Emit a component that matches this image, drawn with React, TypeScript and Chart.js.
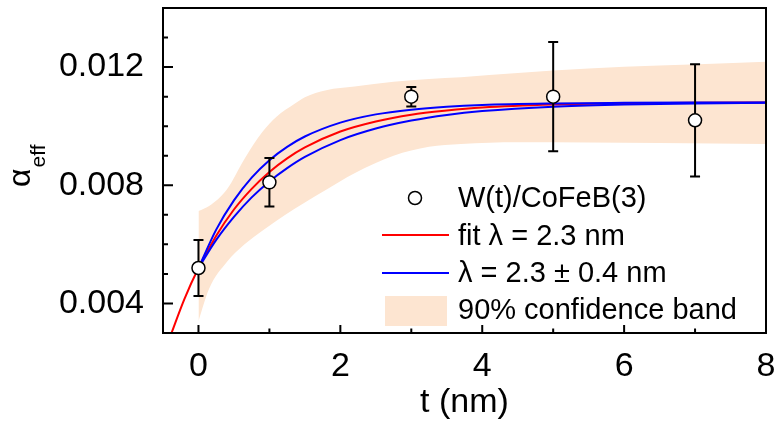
import React, { useEffect, useRef } from "react";
import { Chart, registerables } from "chart.js";

Chart.register(...registerables);

// ---- data ----
const pointT = [0, 1, 3, 5, 7];
const pointAlpha = [0.0052, 0.0081, 0.011, 0.011, 0.0102];
const pointErr = [0.00095, 0.00082, 0.00033, 0.00185, 0.0019];

const fitT = [-0.4, -0.2, 0, 0.25, 0.5, 0.75, 1, 1.25, 1.5, 2, 2.5, 3, 3.5, 4, 5, 6, 7, 8];
const fitRed = [0.00287, 0.00414, 0.0052, 0.00629, 0.00718, 0.00788, 0.00845, 0.00891, 0.00928, 0.00982, 0.01016, 0.01039, 0.01053, 0.01063, 0.01073, 0.01077, 0.01079, 0.0108];

const blueT = [0, 0.25, 0.5, 0.75, 1, 1.25, 1.5, 2, 2.5, 3, 3.5, 4, 5, 6, 7, 8];
const blueUpper = [0.0052, 0.0065, 0.00749, 0.00826, 0.00885, 0.0093, 0.00965, 0.01012, 0.0104, 0.01056, 0.01066, 0.01072, 0.01077, 0.01079, 0.0108, 0.0108];
const blueLower = [0.0052, 0.00615, 0.00693, 0.00759, 0.00813, 0.00858, 0.00896, 0.00953, 0.00992, 0.01019, 0.01038, 0.01051, 0.01066, 0.01073, 0.01077, 0.01079];

const bandT = [0, 0.15, 0.4, 0.65, 0.9, 1.1, 1.35, 1.5, 1.8, 2.2, 2.75, 3.25, 3.7, 4.5, 5.5, 6.5, 8];
const bandUpper = [0.00713, 0.0073, 0.00786, 0.0089, 0.0098, 0.01032, 0.01075, 0.01098, 0.01122, 0.01134, 0.0115, 0.0116, 0.01166, 0.0118, 0.01195, 0.01205, 0.01218];
const bandLower = [0.0034, 0.0045, 0.0054, 0.006, 0.00646, 0.0068, 0.0072, 0.00742, 0.00785, 0.00841, 0.009, 0.0093, 0.0094, 0.00946, 0.00945, 0.00943, 0.0094];

const xMajorTicks = [0, 2, 4, 6, 8];
const xMinorTicks = [1, 3, 5, 7];
const yMajorTicks = [0.004, 0.008, 0.012];
const yMinorTicks = [0.005, 0.006, 0.007, 0.009, 0.01, 0.011, 0.013];

const legendLabels = ["W(t)/CoFeB(3)", "fit \u03bb = 2.3 nm", "\u03bb = 2.3 \u00b1 0.4 nm", "90% confidence band"];
const xTitle = "t (nm)";
const yTitleMain = "\u03b1";
const yTitleSub = "eff";

const RED = "#ff0000";
const BLUE = "#0000ff";
const BAND = "#fde5d1";
const FONT = "'Liberation Sans', Arial, sans-serif";

const toXY = (xs: number[], ys: number[]) => xs.map((x, i) => ({ x, y: ys[i] }));

const errorBarPlugin = {
  id: "errorBars",
  beforeDatasetDraw(chart: any, args: any) {
    if (args.index !== 0) return;
    const { ctx } = chart;
    const x = chart.scales.x;
    const y = chart.scales.y;
    ctx.save();
    ctx.strokeStyle = "#000";
    ctx.lineWidth = 2;
    pointT.forEach((t, i) => {
      const px = x.getPixelForValue(t);
      const top = y.getPixelForValue(pointAlpha[i] + pointErr[i]);
      const bot = y.getPixelForValue(pointAlpha[i] - pointErr[i]);
      ctx.beginPath();
      ctx.moveTo(px, top);
      ctx.lineTo(px, bot);
      ctx.moveTo(px - 5, top);
      ctx.lineTo(px + 5, top);
      ctx.moveTo(px - 5, bot);
      ctx.lineTo(px + 5, bot);
      ctx.stroke();
    });
    ctx.restore();
  },
};

const framePlugin = {
  id: "frame",
  afterDatasetsDraw(chart: any) {
    const { ctx, chartArea: a } = chart;
    const x = chart.scales.x;
    const y = chart.scales.y;
    ctx.save();
    ctx.strokeStyle = "#000";
    ctx.lineWidth = 2;
    ctx.strokeRect(a.left, a.top, a.right - a.left, a.bottom - a.top);
    ctx.beginPath();
    yMajorTicks.forEach((v) => {
      const py = y.getPixelForValue(v);
      ctx.moveTo(a.left, py);
      ctx.lineTo(a.left + 10, py);
    });
    yMinorTicks.forEach((v) => {
      const py = y.getPixelForValue(v);
      ctx.moveTo(a.left, py);
      ctx.lineTo(a.left + 5, py);
    });
    xMajorTicks.forEach((v) => {
      const px = x.getPixelForValue(v);
      ctx.moveTo(px, a.bottom);
      ctx.lineTo(px, a.bottom - 8);
    });
    xMinorTicks.forEach((v) => {
      const px = x.getPixelForValue(v);
      ctx.moveTo(px, a.bottom);
      ctx.lineTo(px, a.bottom - 4.5);
    });
    ctx.stroke();
    ctx.restore();
  },
  afterDraw(chart: any) {
    const { ctx } = chart;
    ctx.save();
    ctx.fillStyle = "#000";
    // y title (alpha_eff), rotated
    ctx.translate(30, 187);
    ctx.rotate(-Math.PI / 2);
    ctx.textBaseline = "alphabetic";
    ctx.textAlign = "left";
    ctx.font = `32px ${FONT}`;
    ctx.fillText(yTitleMain, 0, 0);
    const w = ctx.measureText(yTitleMain).width;
    ctx.font = `21px ${FONT}`;
    ctx.fillText(yTitleSub, w + 1, 15);
    ctx.restore();

    // legend
    ctx.save();
    const tx = 458;
    const baselines = [207, 245, 282, 319];
    ctx.font = `29px ${FONT}`;
    ctx.fillStyle = "#000";
    ctx.textAlign = "left";
    ctx.textBaseline = "alphabetic";
    legendLabels.forEach((s, i) => ctx.fillText(s, tx, baselines[i]));
    // marker
    ctx.beginPath();
    ctx.arc(415, 198, 6.5, 0, Math.PI * 2);
    ctx.fillStyle = "#fff";
    ctx.fill();
    ctx.lineWidth = 1.5;
    ctx.strokeStyle = "#000";
    ctx.stroke();
    // lines
    ctx.lineWidth = 2;
    ctx.strokeStyle = RED;
    ctx.beginPath();
    ctx.moveTo(382, 235);
    ctx.lineTo(449, 235);
    ctx.stroke();
    ctx.strokeStyle = BLUE;
    ctx.beginPath();
    ctx.moveTo(382, 273);
    ctx.lineTo(449, 273);
    ctx.stroke();
    ctx.fillStyle = BAND;
    ctx.fillRect(385, 296, 62, 30);
    ctx.restore();
  },
};

export default function App() {
  const ref = useRef<HTMLCanvasElement>(null);
  useEffect(() => {
    Chart.defaults.font.family = FONT;
    Chart.defaults.color = "#000";
    const lineCommon = {
      pointRadius: 0,
      borderWidth: 2,
      fill: false,
      cubicInterpolationMode: "monotone" as const,
    };
    const chart = new Chart(ref.current as HTMLCanvasElement, {
      type: "line",
      data: {
        datasets: [
          {
            type: "scatter",
            label: "points",
            data: toXY(pointT, pointAlpha),
            pointRadius: 6.5,
            pointHoverRadius: 6.5,
            pointBackgroundColor: "#fff",
            pointBorderColor: "#000",
            pointBorderWidth: 1.5,
            showLine: false,
            order: 0,
          } as any,
          { label: "blueU", data: toXY(blueT, blueUpper), borderColor: BLUE, ...lineCommon, order: 1 },
          { label: "blueL", data: toXY(blueT, blueLower), borderColor: BLUE, ...lineCommon, order: 1 },
          { label: "red", data: toXY(fitT, fitRed), borderColor: RED, ...lineCommon, order: 2 },
          {
            label: "bandU",
            data: toXY(bandT, bandUpper),
            borderColor: "rgba(0,0,0,0)",
            borderWidth: 0,
            backgroundColor: BAND,
            pointRadius: 0,
            fill: "+1",
            cubicInterpolationMode: "monotone",
            order: 10,
          },
          {
            label: "bandL",
            data: toXY(bandT, bandLower),
            borderColor: "rgba(0,0,0,0)",
            borderWidth: 0,
            pointRadius: 0,
            fill: false,
            cubicInterpolationMode: "monotone",
            order: 10,
          },
        ],
      },
      options: {
        responsive: false,
        animation: false,
        devicePixelRatio: 1,
        layout: { padding: { left: 0, top: 8, right: 10, bottom: 0 } },
        plugins: { legend: { display: false }, tooltip: { enabled: false } },
        scales: {
          x: {
            type: "linear",
            min: -0.5,
            max: 8,
            grid: { display: false },
            border: { display: false },
            ticks: {
              padding: 5,
              font: { size: 34 },
              color: "#000",
              callback: (v: any) => String(v),
            },
            title: {
              display: true,
              text: xTitle,
              font: { size: 34, lineHeight: 1.1 },
              color: "#000",
              padding: { top: 0, bottom: 0 },
            },
            afterBuildTicks: (s: any) => {
              s.ticks = xMajorTicks.map((v) => ({ value: v }));
            },
            afterFit: (s: any) => {
              s.height = 88;
              s.paddingLeft = 0;
              s.paddingRight = 0;
            },
          },
          y: {
            type: "linear",
            min: 0.003,
            max: 0.014,
            grid: { display: false },
            border: { display: false },
            ticks: {
              padding: 11,
              font: { size: 34 },
              color: "#000",
              callback: (v: any) => Number(v).toFixed(3),
            },
            afterBuildTicks: (s: any) => {
              s.ticks = yMajorTicks.map((v) => ({ value: v }));
            },
            afterFit: (s: any) => {
              s.width = 163;
              s.paddingTop = 0;
              s.paddingBottom = 0;
            },
          },
        },
      },
      plugins: [errorBarPlugin, framePlugin],
    } as any);
    return () => chart.destroy();
  }, []);
  return (
    <div style={{ position: "fixed", left: 0, top: 0, width: 776, height: 421, background: "#fff" }}>
      <canvas ref={ref} width={776} height={421} style={{ display: "block", width: 776, height: 421 }} />
    </div>
  );
}
